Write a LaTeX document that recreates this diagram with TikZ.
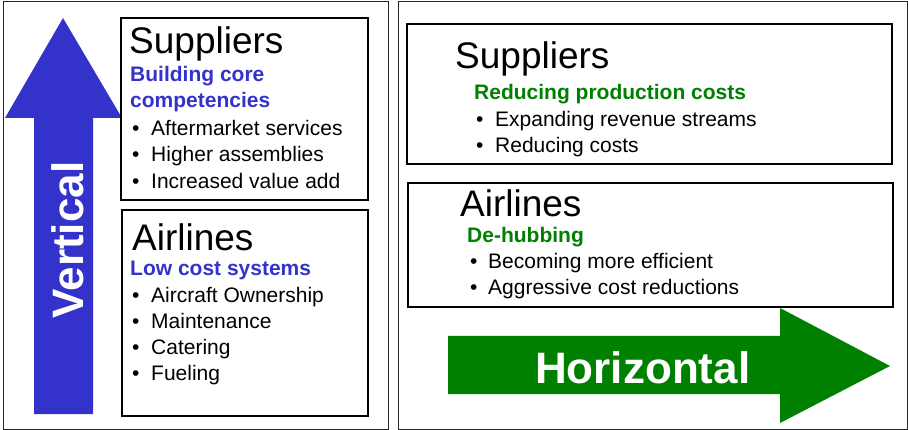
\documentclass[tikz,border=0pt]{standalone}
\usepackage{fontspec}
\setmainfont{Liberation Sans}
\definecolor{vblue}{HTML}{3333CC}
\definecolor{hgreen}{HTML}{008000}
\begin{document}
\begin{tikzpicture}[x=1pt,y=-1pt,
  panel/.style={draw=black!85,line width=1pt},
  box/.style={draw=black,line width=1.5pt},
  head/.style={anchor=base west,inner sep=0,font=\fontsize{37}{44}\selectfont},
  sub/.style={anchor=base west,inner sep=0,font=\fontsize{21}{25}\selectfont\bfseries},
  item/.style={anchor=base west,inner sep=0,font=\fontsize{21}{25}\selectfont},
  big/.style={inner sep=0,text=white,font=\fontsize{44}{50}\selectfont\bfseries}]
\useasboundingbox (0,0) rectangle (908,430);
% panels
\draw[panel] (3,2) rectangle (388,429);
\draw[panel] (398,2) rectangle (907,429);
% vertical arrow
\fill[vblue] (34,414) -- (34,118) -- (5,118) -- (63,18) -- (122,118) -- (93,118) -- (93,414) -- cycle;
\node[big,rotate=90,anchor=base] (vert) at (83,240) {Vertical};
% left boxes
\draw[box] (121,18) rectangle (368,200);
\draw[box] (122,210) rectangle (368,416);
\node[head] (lsh) at (129,54) {Suppliers};
\node[sub,text=vblue] (lss1) at (130,82) {Building core};
\node[sub,text=vblue] (lss2) at (130,108) {competencies};
\node[item] (lb1) at (132,136) {•};
\node[item] (li1) at (151,136) {Aftermarket services};
\node[item] (lb2) at (132,162) {•};
\node[item] (li2) at (151,162) {Higher assemblies};
\node[item] (lb3) at (132,189) {•};
\node[item] (li3) at (151,189) {Increased value add};
\node[head] (lah) at (132,251) {Airlines};
\node[sub,text=vblue] (las) at (130,276) {Low cost systems};
\node[item] (lb4) at (132,303) {•};
\node[item] (li4) at (151,303) {Aircraft Ownership};
\node[item] (lb5) at (132,329) {•};
\node[item] (li5) at (151,329) {Maintenance};
\node[item] (lb6) at (132,355) {•};
\node[item] (li6) at (151,355) {Catering};
\node[item] (lb7) at (132,381) {•};
\node[item] (li7) at (151,381) {Fueling};
% right boxes
\draw[box] (407,24) rectangle (892,164);
\draw[box] (408,183) rectangle (893,307);
\node[head] (rsh) at (455,69) {Suppliers};
\node[sub,text=hgreen] (rss) at (474,100) {Reducing production costs};
\node[item] (rb1) at (476,127) {•};
\node[item] (ri1) at (495,127) {Expanding revenue streams};
\node[item] (rb2) at (476,153) {•};
\node[item] (ri2) at (495,153) {Reducing costs};
\node[head] (rah) at (460,217) {Airlines};
\node[sub,text=hgreen] (ras) at (467,243) {De-hubbing};
\node[item] (rb3) at (470,269) {•};
\node[item] (ri3) at (488,269) {Becoming more efficient};
\node[item] (rb4) at (470,295) {•};
\node[item] (ri4) at (488,295) {Aggressive cost reductions};
% horizontal arrow
\fill[hgreen] (448,336) -- (780,336) -- (780,308) -- (890,366) -- (780,423) -- (780,394) -- (448,394) -- cycle;
\node[big,anchor=base west] (horiz) at (535,384) {Horizontal};
\end{tikzpicture}
\end{document}
